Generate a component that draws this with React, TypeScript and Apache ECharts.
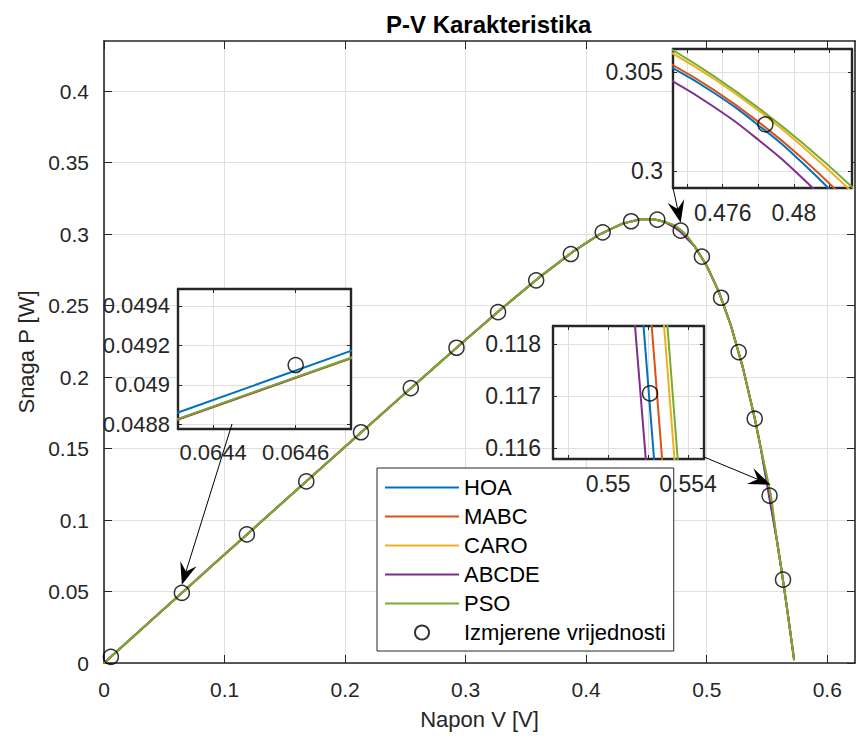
import React, { useEffect, useRef } from 'react';
import * as echarts from 'echarts';

// ---------------- data ----------------
const seriesNames = ['HOA', 'MABC', 'CARO', 'ABCDE', 'PSO'];
const seriesColors = ['#0072BD', '#D95319', '#EDB120', '#7E2F8E', '#77AC30'];
const measuredName = 'Izmjerene vrijednosti';

// measured points (V, P)
const measuredV = [0.0057, 0.0646, 0.1185, 0.1678, 0.2132, 0.2545, 0.2924, 0.3269, 0.3585, 0.3873,
  0.4137, 0.4373, 0.459, 0.4784, 0.496, 0.5119, 0.5265, 0.5398, 0.5521, 0.5633];
const measuredP = [0.00434, 0.0491, 0.08994, 0.12702, 0.16139, 0.19227, 0.22047, 0.24534, 0.26762, 0.28602,
  0.30117, 0.30895, 0.31005, 0.30235, 0.28421, 0.25544, 0.21744, 0.17085, 0.11705, 0.0583];

// shared model curve
const curveV = [0, 0.02, 0.04, 0.09, 0.12, 0.15, 0.18, 0.21, 0.24, 0.27, 0.3, 0.33, 0.36, 0.39, 0.41, 0.43,
  0.445, 0.455, 0.465, 0.49, 0.5, 0.51, 0.52, 0.53, 0.54, 0.545, 0.558, 0.562, 0.566, 0.569, 0.5725];
const curveP = [0, 0.0152, 0.03038, 0.06828, 0.09097, 0.11362, 0.13624, 0.15881, 0.18132, 0.20374, 0.22599,
  0.24787, 0.26896, 0.28826, 0.29918, 0.30726, 0.31039, 0.31052, 0.30857, 0.29137, 0.2778, 0.25972, 0.2362,
  0.20658, 0.17042, 0.14966, 0.08688, 0.0652, 0.04183, 0.02373, 0.002];

// per-algorithm detail: [V, P]
const hoaDetail = [[0.0643, 0.048848], [0.06475, 0.049184], [0.473, 0.30529], [0.4755, 0.303946], [0.478, 0.302308],
  [0.4805, 0.300377], [0.4835, 0.297672], [0.55164, 0.119], [0.55246, 0.115]];
const mabcDetail = [[0.0643, 0.048813], [0.06475, 0.049146], [0.473, 0.305443], [0.4755, 0.304089], [0.478, 0.302476],
  [0.4805, 0.300604], [0.4835, 0.298015], [0.55205, 0.119], [0.55286, 0.115]];
const caroDetail = [[0.0643, 0.048815], [0.06475, 0.049148], [0.473, 0.306037], [0.4755, 0.304656], [0.478, 0.303049],
  [0.4805, 0.301218], [0.4835, 0.298723], [0.55267, 0.119], [0.55348, 0.115]];
const abcdeDetail = [[0.0643, 0.048814], [0.06475, 0.049147], [0.473, 0.30462], [0.4755, 0.303238], [0.478, 0.301567],
  [0.4805, 0.299607], [0.4835, 0.296874], [0.55121, 0.119], [0.55205, 0.115]];
const psoDetail = [[0.0643, 0.048816], [0.06475, 0.049149], [0.473, 0.30621], [0.4755, 0.30479], [0.478, 0.303183],
  [0.4805, 0.301388], [0.4835, 0.298987], [0.55284, 0.119], [0.55364, 0.115]];
const details = [hoaDetail, mabcDetail, caroDetail, abcdeDetail, psoDetail];

// tick values
const mainXTicks = [0, 0.1, 0.2, 0.3, 0.4, 0.5, 0.6];
const mainYTicks = [0, 0.05, 0.1, 0.15, 0.2, 0.25, 0.3, 0.35, 0.4];
const in1XTicks = [0.0644, 0.0646];
const in1YTicks = [0.0488, 0.049, 0.0492, 0.0494];
const in2XTicks = [0.548, 0.55, 0.552, 0.554];
const in2XLabels = [0.55, 0.554];
const in2YTicks = [0.116, 0.117, 0.118];
const in3XTicks = [0.474, 0.476, 0.478, 0.48, 0.482];
const in3XLabels = [0.476, 0.48];
const in3YTicks = [0.3, 0.305];

// ---------------- layout ----------------
const W = 856;
const H = 739;
const FONT = '"Liberation Sans", Arial, Helvetica, sans-serif';
const AX = '#262626';
const GRIDC = '#dfdfdf';

const grids = [
  { left: 104, top: 41, width: 751, height: 622, x: [0, 0.623], y: [0, 0.435] },
  { left: 178, top: 289, width: 173, height: 140, x: [0.064315, 0.064734], y: [0.048776, 0.049485] },
  { left: 553, top: 326, width: 151, height: 133, x: [0.54724, 0.5548], y: [0.115783, 0.118352] },
  { left: 673, top: 49, width: 179, height: 139, x: [0.47321, 0.48326], y: [0.29913, 0.30616] },
];
const insetWindows = [[0.064, 0.065], [0.547, 0.555], [0.472, 0.485]];

const fmt = (v: number) => String(parseFloat(Number(v).toFixed(6)));

function makeAxes(gi: number, xTicks: number[], xLabels: number[], yTicks: number[], yLabels: number[], o: any) {
  const g = grids[gi];
  const z = o.z;
  const line = { show: true, onZero: false, lineStyle: { color: AX, width: o.lw } };
  const tick = (vals: number[]) => ({ show: true, inside: true, length: o.tl, customValues: vals, lineStyle: { color: AX, width: 1 } });
  const lab = (vals: number[], margin: number) => ({
    show: true, customValues: vals, margin, fontSize: o.fs, color: AX, fontFamily: FONT, formatter: fmt,
  });
  const xs = [
    {
      type: 'value', gridIndex: gi, position: 'bottom', min: g.x[0], max: g.x[1], z,
      axisLine: line, axisTick: tick(xTicks), axisLabel: lab(xLabels, o.xm),
      splitLine: { show: true, lineStyle: { color: GRIDC, width: 1 } },
      ...(o.xName || {}),
    },
    {
      type: 'value', gridIndex: gi, position: 'top', min: g.x[0], max: g.x[1], z,
      axisLine: line, axisTick: tick(xTicks), axisLabel: { show: false }, splitLine: { show: false },
    },
  ];
  const ys = [
    {
      type: 'value', gridIndex: gi, position: 'left', min: g.y[0], max: g.y[1], z,
      axisLine: line, axisTick: tick(yTicks), axisLabel: lab(yLabels, o.ym),
      splitLine: { show: true, lineStyle: { color: GRIDC, width: 1 } },
      ...(o.yName || {}),
    },
    {
      type: 'value', gridIndex: gi, position: 'right', min: g.y[0], max: g.y[1], z,
      axisLine: line, axisTick: tick(yTicks), axisLabel: { show: false }, splitLine: { show: false },
    },
  ];
  return { xs, ys };
}

function buildOption() {
  const nameStyle = { fontSize: 22, color: AX, fontFamily: FONT };
  const axes = [
    makeAxes(0, mainXTicks, mainXTicks, mainYTicks, mainYTicks, {
      z: 0, lw: 1.6, tl: 8, xm: 16, ym: 15, fs: 21,
      xName: { name: 'Napon V [V]', nameLocation: 'middle', nameGap: 45, nameTextStyle: nameStyle },
      yName: { name: 'Snaga P [W]', nameLocation: 'middle', nameGap: 62, nameTextStyle: nameStyle },
    }),
    makeAxes(1, in1XTicks, in1XTicks, in1YTicks, in1YTicks, { z: 11, lw: 2.4, tl: 4, xm: 12, ym: 8, fs: 22 }),
    makeAxes(2, in2XTicks, in2XLabels, in2YTicks, in2YTicks, { z: 11, lw: 2.4, tl: 4, xm: 13, ym: 12, fs: 23 }),
    makeAxes(3, in3XTicks, in3XLabels, in3YTicks, in3YTicks, { z: 11, lw: 2.4, tl: 4, xm: 13, ym: 10, fs: 23 }),
  ];
  const xAxis: any[] = [];
  const yAxis: any[] = [];
  axes.forEach((a) => { xAxis.push(...a.xs); yAxis.push(...a.ys); });

  const base = curveV.map((v, i) => [v, curveP[i]]);
  const merged = details.map((d) => [...base, ...d].sort((a, b) => a[0] - b[0]));
  const measured = measuredV.map((v, i) => [v, measuredP[i]]);

  const series: any[] = [];
  for (let gi = 0; gi < 4; gi++) {
    const win = gi === 0 ? null : insetWindows[gi - 1];
    const z = gi === 0 ? 2 : 12;
    seriesNames.forEach((name, i) => {
      const data = win ? merged[i].filter((p) => p[0] >= win[0] && p[0] <= win[1]) : merged[i];
      series.push({
        type: 'line', name, xAxisIndex: gi * 2, yAxisIndex: gi * 2, data,
        symbol: 'none', showSymbol: false, clip: true, z, smooth: win ? 0.5 : false,
        lineStyle: { color: seriesColors[i], width: 2 }, itemStyle: { color: seriesColors[i] },
      });
    });
    series.push({
      type: 'scatter', name: measuredName, xAxisIndex: gi * 2, yAxisIndex: gi * 2, data: measured,
      symbol: 'circle', symbolSize: 15, clip: true, z: z + 1,
      itemStyle: { color: 'rgba(0,0,0,0)', borderColor: '#000', borderWidth: 1.5 },
    });
  }

  const hidden = { color: 'rgba(0,0,0,0)', borderWidth: 0, opacity: 0 };

  return {
    animation: false,
    backgroundColor: '#fff',
    title: {
      text: 'P-V Karakteristika', left: 381, top: 7,
      textStyle: { fontSize: 24, fontWeight: 'bold', color: '#000', fontFamily: FONT },
    },
    grid: grids.map((g, i) => ({
      left: g.left, top: g.top, width: g.width, height: g.height, containLabel: false,
      show: i > 0, backgroundColor: '#fff', borderWidth: 0, z: i > 0 ? 10 : 0,
    })),
    xAxis,
    yAxis,
    legend: {
      data: [
        ...seriesNames.map((n) => ({ name: n, itemStyle: hidden })),
        { name: measuredName },
      ],
      orient: 'vertical', left: 377, top: 468,
      itemWidth: 74, itemHeight: 14, itemGap: 0, padding: [5, 8, 4, 7],
      backgroundColor: '#fff', borderColor: AX, borderWidth: 1, selectedMode: false, z: 5,
      textStyle: { fontSize: 22, color: '#000', fontFamily: FONT, lineHeight: 29 },
    },
    series,
  };
}

// arrows: start pixel (inset corner) -> measured point index, tip offset from point
const arrowSpec = [
  { start: [232, 424], idx: 1, tipOffset: [0, -8] },
  { start: [673, 188], idx: 13, tipOffset: [0, -8] },
  { start: [704, 457], idx: 18, tipOffset: [1, -11] },
];

export default function App() {
  const ref = useRef<HTMLDivElement>(null);
  useEffect(() => {
    document.body.style.margin = '0';
    const el = ref.current;
    if (!el) return;
    const chart = echarts.init(el, null, { renderer: 'svg', width: W, height: H });
    chart.setOption(buildOption());
    const elements: any[] = [];
    arrowSpec.forEach((a) => {
      const c = chart.convertToPixel({ xAxisIndex: 0, yAxisIndex: 0 }, [measuredV[a.idx], measuredP[a.idx]]) as number[];
      const tip = [c[0] + a.tipOffset[0], c[1] + a.tipOffset[1]];
      const dx = tip[0] - a.start[0];
      const dy = tip[1] - a.start[1];
      const len = Math.hypot(dx, dy);
      const ux = dx / len;
      const uy = dy / len;
      const nx = -uy;
      const ny = ux;
      const L = 22;
      const Wd = 8.5;
      const notch = 14;
      const back = [tip[0] - ux * L, tip[1] - uy * L];
      const mid = [tip[0] - ux * notch, tip[1] - uy * notch];
      elements.push({
        type: 'line', z: 30, silent: true,
        shape: { x1: a.start[0], y1: a.start[1], x2: mid[0], y2: mid[1] },
        style: { stroke: '#000', lineWidth: 1 },
      });
      elements.push({
        type: 'polygon', z: 31, silent: true,
        shape: { points: [tip, [back[0] + nx * Wd, back[1] + ny * Wd], mid, [back[0] - nx * Wd, back[1] - ny * Wd]] },
        style: { fill: '#000' },
      });
    });
    chart.setOption({ graphic: { elements } });
    return () => chart.dispose();
  }, []);
  return <div ref={ref} style={{ position: 'absolute', left: 0, top: 0, width: W, height: H }} />;
}
